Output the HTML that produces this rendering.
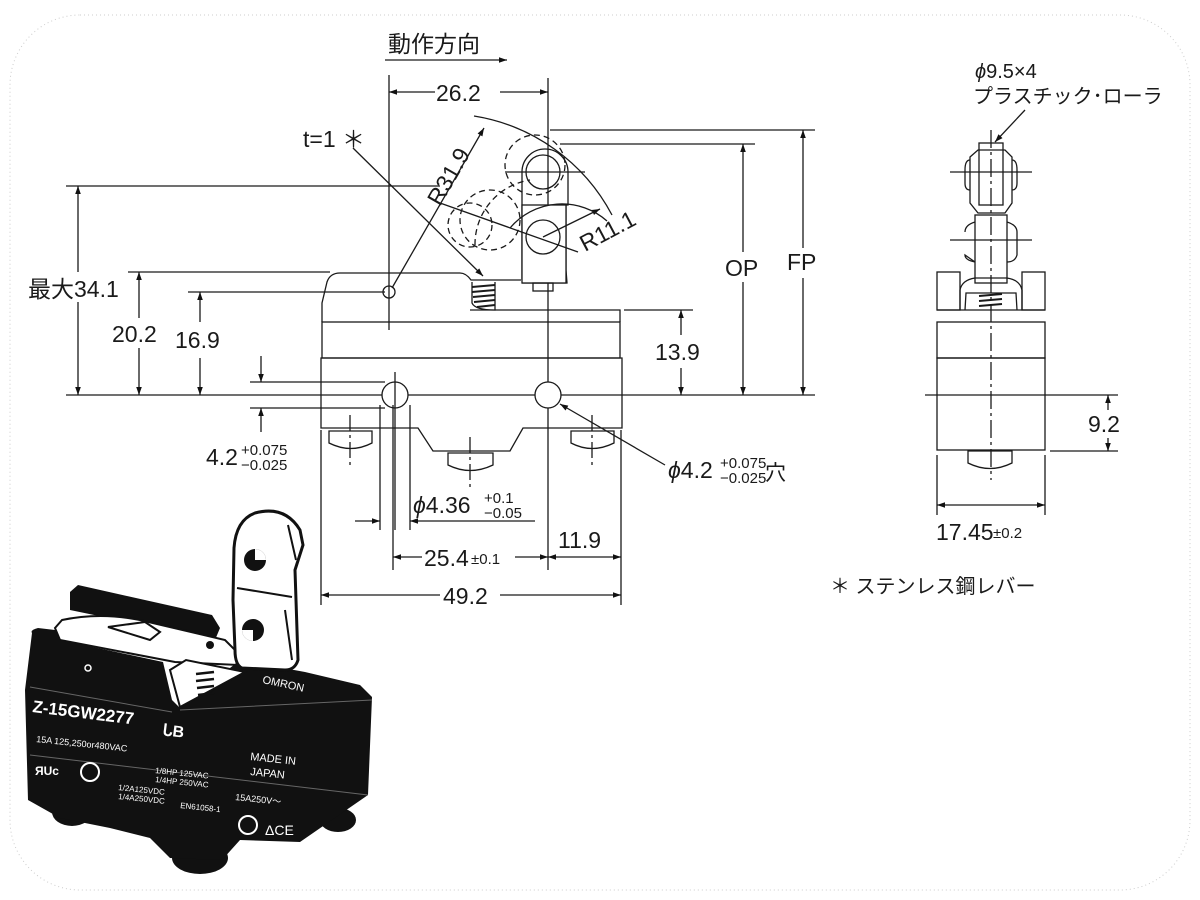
<!DOCTYPE html>
<html><head><meta charset="utf-8"><style>
html,body{margin:0;padding:0;background:#fff}
svg{display:block}
text{font-family:"Liberation Sans","Noto Sans CJK JP",sans-serif;fill:#1a1a1a}
</style></head><body>
<svg width="1200" height="900" viewBox="0 0 1200 900" xmlns="http://www.w3.org/2000/svg">
<defs>
<marker id="a" viewBox="0 0 10 10" refX="10" refY="5" markerWidth="14" markerHeight="8" orient="auto-start-reverse" markerUnits="userSpaceOnUse"><path d="M0,1.5 L10,5 L0,8.5z" fill="#111"/></marker>
</defs>
<rect x="10" y="15" width="1180" height="875" rx="70" fill="none" stroke="#ccc" stroke-dasharray="1,3"/>
<g stroke="#1a1a1a" stroke-width="1.3" fill="none">
<line x1="385" y1="60" x2="507" y2="60" marker-end="url(#a)"/>
<line x1="389" y1="75" x2="389" y2="330"/>
<line x1="548" y1="78" x2="548" y2="570"/>
<line x1="389" y1="92" x2="435" y2="92" marker-start="url(#a)"/>
<line x1="500" y1="92" x2="548" y2="92" marker-end="url(#a)"/>
<line x1="550" y1="130" x2="815" y2="130"/>
<line x1="560" y1="144" x2="755" y2="144"/>
<line x1="803" y1="130" x2="803" y2="248" marker-start="url(#a)"/>
<line x1="803" y1="278" x2="803" y2="395" marker-end="url(#a)"/>
<line x1="743" y1="144" x2="743" y2="252" marker-start="url(#a)"/>
<line x1="743" y1="282" x2="743" y2="395" marker-end="url(#a)"/>
<line x1="624" y1="310" x2="693" y2="310"/>
<line x1="681" y1="310" x2="681" y2="335" marker-start="url(#a)"/>
<line x1="681" y1="368" x2="681" y2="395" marker-end="url(#a)"/>
<line x1="66" y1="395" x2="815" y2="395"/>
<line x1="66" y1="186" x2="440" y2="186"/>
<line x1="78" y1="186" x2="78" y2="272" marker-start="url(#a)"/>
<line x1="78" y1="302" x2="78" y2="395" marker-end="url(#a)"/>
<line x1="128" y1="272" x2="330" y2="272"/>
<line x1="139" y1="272" x2="139" y2="318" marker-start="url(#a)"/>
<line x1="139" y1="348" x2="139" y2="395" marker-end="url(#a)"/>
<line x1="188" y1="292" x2="385" y2="292"/>
<line x1="200" y1="292" x2="200" y2="322" marker-start="url(#a)"/>
<line x1="200" y1="358" x2="200" y2="395" marker-end="url(#a)"/>
<line x1="250" y1="382" x2="385" y2="382"/>
<line x1="250" y1="408" x2="385" y2="408"/>
<line x1="261" y1="356" x2="261" y2="382" marker-end="url(#a)"/>
<line x1="261" y1="432" x2="261" y2="408" marker-end="url(#a)"/>
<path d="M322,322 L322,303 L327,282 Q330,273 340,273 L460,273 Q466,273 471,280 L521,280"/>
<path d="M470,310 L620,310 L620,322"/>
<rect x="322" y="322" width="298" height="36"/>
<path d="M321,358 L622,358 L622,428 L523,428 L510,451 L433,451 L418,428 L321,428 Z"/>
<path d="M472,282 L472,303 Q475,310 495,310 L495,282" fill="#fff"/>
<g stroke-width="2"><line x1="472" y1="287" x2="495" y2="285"/><line x1="472" y1="292" x2="495" y2="290"/><line x1="473" y1="297" x2="495" y2="295"/><line x1="474" y1="302" x2="495" y2="300"/><line x1="477" y1="307" x2="495" y2="305"/></g>
<circle cx="395" cy="395" r="13" fill="#fff"/>
<circle cx="548" cy="395" r="13" fill="#fff"/>
<line x1="395" y1="372" x2="395" y2="530"/>
<line x1="380" y1="405" x2="380" y2="530"/>
<line x1="410" y1="405" x2="410" y2="530"/>
<circle cx="389" cy="292" r="6"/>
<path d="M329,431 L372,431 L372,443 Q351,454 329,443 Z"/>
<path d="M571,431 L614,431 L614,443 Q592,454 571,443 Z"/>
<path d="M448,453 L493,453 L493,465 Q470,476 448,465 Z"/>
<line x1="350" y1="415" x2="350" y2="465" stroke-dasharray="16,4,3,4"/>
<line x1="592" y1="415" x2="592" y2="465" stroke-dasharray="16,4,3,4"/>
<line x1="470" y1="437" x2="470" y2="490" stroke-dasharray="16,4,3,4"/>
<path d="M522,280 L522,172 A23,23 0 0 1 568,172 L568,205 L566,205 L566,270 L567,283 L522,283"/>
<rect x="522" y="205" width="44" height="78" fill="#fff"/>
<circle cx="543" cy="172" r="17"/>
<circle cx="543" cy="237" r="17"/>
<rect x="533" y="283" width="20" height="8"/>
<line x1="505" y1="172" x2="585" y2="172"/>
<g stroke-dasharray="6,4">
<circle cx="535" cy="165" r="30"/>
<circle cx="470" cy="225" r="22"/>
<circle cx="490" cy="220" r="30"/>
<path d="M475,245 A65,65 0 0 1 530,180"/>
</g>
<line x1="392" y1="288" x2="484" y2="128" marker-end="url(#a)"/>
<path d="M474,116 A190,190 0 0 1 612,215"/>
<line x1="440" y1="203" x2="578" y2="252"/>
<line x1="543" y1="237" x2="600" y2="209" marker-end="url(#a)"/>
<path d="M510,228 A68,68 0 0 1 607,221"/>
<line x1="353" y1="148" x2="483" y2="276" marker-end="url(#a)"/>
<line x1="665" y1="465" x2="560" y2="404" marker-end="url(#a)"/>
<line x1="355" y1="521" x2="380" y2="521" marker-end="url(#a)"/>
<line x1="535" y1="521" x2="410" y2="521" marker-end="url(#a)"/>
<line x1="393" y1="405" x2="393" y2="570"/>
<line x1="621" y1="430" x2="621" y2="605"/>
<line x1="321" y1="430" x2="321" y2="605"/>
<line x1="393" y1="557" x2="422" y2="557" marker-start="url(#a)"/>
<line x1="515" y1="557" x2="548" y2="557" marker-end="url(#a)"/>
<line x1="548" y1="557" x2="621" y2="557" marker-start="url(#a)" marker-end="url(#a)"/>
<line x1="321" y1="595" x2="440" y2="595" marker-start="url(#a)"/>
<line x1="500" y1="595" x2="621" y2="595" marker-end="url(#a)"/>
<rect x="937" y="358" width="108" height="92"/>
<rect x="937" y="322" width="108" height="36"/>
<line x1="937" y1="310" x2="1045" y2="310"/>
<rect x="937" y="272" width="23" height="38"/>
<rect x="1022" y="272" width="23" height="38"/>
<path d="M960,310 L960,290 Q962,280 975,278 L1007,278 Q1020,280 1022,290 L1022,310"/>
<path d="M965,310 L966,293 L1016,293 L1017,310"/>
<g stroke-width="2"><line x1="979" y1="296" x2="1002" y2="294"/><line x1="979" y1="301" x2="1002" y2="299"/><line x1="979" y1="306" x2="1002" y2="304"/></g>
<rect x="975" y="215" width="32" height="68"/>
<path d="M965,232 Q965,225 975,222 M1007,222 Q1017,225 1017,232 L1017,255 Q1015,262 1007,262 M975,262 Q965,260 965,255 Z"/>
<path d="M970,157 L978,150 L1005,150 L1012,157 L1012,203 L1005,213 L978,213 L970,203 Z"/>
<rect x="979" y="143" width="24" height="62"/>
<path d="M970,160 Q965,160 965,170 L965,183 Q965,190 970,190 M1012,160 Q1017,160 1017,170 L1017,183 Q1017,190 1012,190"/>
<path d="M968,451 L1012,451 L1012,463 Q990,474 968,463 Z"/>
<line x1="991" y1="130" x2="991" y2="480" stroke-dasharray="18,4,3,4"/>
<line x1="950" y1="172" x2="1032" y2="172"/>
<line x1="950" y1="240" x2="1032" y2="240"/>
<line x1="925" y1="395" x2="1118" y2="395"/>
<line x1="1050" y1="451" x2="1118" y2="451"/>
<line x1="1108" y1="395" x2="1108" y2="410" marker-start="url(#a)"/>
<line x1="1108" y1="438" x2="1108" y2="451" marker-end="url(#a)"/>
<line x1="937" y1="455" x2="937" y2="515"/>
<line x1="1045" y1="455" x2="1045" y2="515"/>
<line x1="937" y1="505" x2="1045" y2="505" marker-start="url(#a)" marker-end="url(#a)"/>
<line x1="1025" y1="110" x2="995" y2="142" marker-end="url(#a)"/>
</g>
<g font-size="23">
<text x="388" y="52">動作方向</text>
<text x="436" y="101">26.2</text>
<text x="303" y="147">t=1 ＊</text>
<text x="0" y="0" transform="translate(440,207) rotate(-60)">R31.9</text>
<text x="0" y="0" transform="translate(585,252) rotate(-28)">R11.1</text>
<rect x="26" y="272" width="100" height="28" fill="#fff"/>
<text x="28" y="297">最大34.1</text>
<text x="112" y="342">20.2</text>
<text x="175" y="348">16.9</text>
<text x="655" y="360">13.9</text>
<text x="725" y="276">OP</text>
<text x="787" y="270">FP</text>
<text x="206" y="465">4.2</text>
<text x="241" y="455" font-size="15">+0.075</text>
<text x="241" y="470" font-size="15">−0.025</text>
<text x="413" y="513"><tspan font-style="italic">ϕ</tspan>4.36</text>
<text x="484" y="503" font-size="15">+0.1</text>
<text x="484" y="518" font-size="15">−0.05</text>
<text x="424" y="566">25.4</text><text x="471" y="564" font-size="15">±0.1</text>
<text x="558" y="548">11.9</text>
<text x="443" y="604">49.2</text>
<text x="668" y="478"><tspan font-style="italic">ϕ</tspan>4.2</text>
<text x="720" y="468" font-size="15">+0.075</text>
<text x="720" y="483" font-size="15">−0.025</text>
<text x="765" y="480" font-size="21">穴</text>
<text x="1088" y="432">9.2</text>
<text x="936" y="540">17.45</text><text x="993" y="538" font-size="15">±0.2</text>
<text x="975" y="78" font-size="20"><tspan font-style="italic">ϕ</tspan>9.5×4</text>
<text x="973" y="103" font-size="20">プラスチック･ローラ</text>
<text x="830" y="593" font-size="20">＊ ステンレス鋼レバー</text>
</g>
<g>
<ellipse cx="72" cy="812" rx="20" ry="14" fill="#111"/>
<ellipse cx="200" cy="858" rx="28" ry="16" fill="#111"/>
<ellipse cx="338" cy="820" rx="18" ry="12" fill="#111"/>
<path d="M70,592 L78,585 L212,615 L220,628 L215,640 L70,610 Z" fill="#111"/>
<path d="M55,628 L62,620 Q100,612 140,620 L225,640 L240,655 L238,665 L175,662 L60,640 Z" fill="#fff" stroke="#111" stroke-width="2"/>
<path d="M108,627 L145,622 L160,632 L150,640 Z" fill="#fff" stroke="#111" stroke-width="2"/>
<circle cx="210" cy="645" r="4" fill="#111"/>
<path d="M32,633 Q30,630 38,628 L55,630 L60,640 L163,662 L172,700 L180,708 L240,660 L305,672 L360,685 L372,697 L368,795 L300,842 L240,840 L222,860 L170,858 L150,838 L110,828 L60,818 L28,800 L25,690 Z" fill="#111"/>
<path d="M180,707 L170,670 L186,660 L245,672 Z" fill="#fff" stroke="#111" stroke-width="2"/>
<g stroke="#111" stroke-width="2.5"><line x1="196" y1="674" x2="214" y2="672"/><line x1="196" y1="681" x2="214" y2="679"/><line x1="197" y1="688" x2="214" y2="686"/><line x1="198" y1="695" x2="214" y2="693"/></g>
<path d="M234,548 Q236,520 255,513 Q285,505 300,530 L303,545 L295,570 L298,660 Q295,670 285,670 L242,668 Q235,665 235,650 L233,600 Z" fill="#fff" stroke="#111" stroke-width="3"/>
<path d="M237,588 L292,597" stroke="#111" stroke-width="2"/>
<path d="M288,525 L296,560 M285,610 L292,660" stroke="#111" stroke-width="2"/>
<circle cx="255" cy="560" r="11" fill="#111"/><circle cx="253" cy="630" r="11" fill="#111"/>
<path d="M255,549 L255,560 L266,560 A11,11 0 0 0 255,549Z M253,630 L242,630 A11,11 0 0 0 253,641Z" fill="#fff"/>
<path d="M30,687 L172,712 M180,710 L372,700 M30,755 L368,795" stroke="#666" stroke-width="1"/>
<circle cx="88" cy="668" r="3" fill="none" stroke="#fff" stroke-width="1.5"/>
<text x="32" y="712" font-size="17" font-weight="bold" style="fill:#fff" transform="rotate(7 32 712)">Z-15GW2277</text>
<text x="162" y="735" font-size="16" font-weight="bold" style="fill:#fff" transform="rotate(7 162 735)">ᒐB</text>
<text x="36" y="742" font-size="9" style="fill:#fff" transform="rotate(6 36 742)">15A 125,250or480VAC</text>
<text x="250" y="760" font-size="11" style="fill:#fff" transform="rotate(6 250 760)">MADE IN</text>
<text x="250" y="775" font-size="11" style="fill:#fff" transform="rotate(6 250 775)">JAPAN</text>
<text x="155" y="773" font-size="8" style="fill:#fff" transform="rotate(6 155 773)">1/8HP 125VAC</text>
<text x="155" y="782" font-size="8" style="fill:#fff" transform="rotate(6 155 782)">1/4HP 250VAC</text>
<text x="118" y="790" font-size="8" style="fill:#fff" transform="rotate(6 118 790)">1/2A125VDC</text>
<text x="118" y="799" font-size="8" style="fill:#fff" transform="rotate(6 118 799)">1/4A250VDC</text>
<text x="180" y="808" font-size="8" style="fill:#fff" transform="rotate(6 180 808)">EN61058-1</text>
<text x="235" y="800" font-size="9" style="fill:#fff" transform="rotate(6 235 800)">15A250V～</text>
<text x="262" y="683" font-size="11" style="fill:#fff" transform="rotate(12 262 683)">OMRON</text>
<text x="265" y="835" font-size="14" style="fill:#fff">ΔCE</text>
<text x="35" y="775" font-size="12" font-weight="bold" style="fill:#fff">ЯUc</text>
<circle cx="90" cy="772" r="9" fill="none" stroke="#fff" stroke-width="2"/>
<circle cx="248" cy="825" r="9" fill="none" stroke="#fff" stroke-width="2"/>
</g>
</svg>
</body></html>
